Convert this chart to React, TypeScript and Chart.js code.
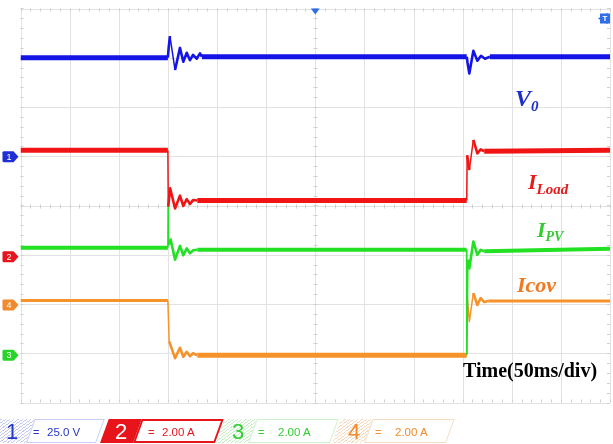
import React, { useEffect, useRef } from "react";
import { Chart, registerables } from "chart.js";
Chart.register(...registerables);

// ---- axes (time in ms, 50 ms/div; vertical in screen divisions) ----
const gridTimesMs = [0, 50, 100, 150, 200, 250, 300, 350, 400, 450, 500, 550, 600];
const gridDivs = [0, 1, 2, 3, 4, 5, 6, 7, 8];

// ---- traces ----
const v0TimeMs = [0, 150, 150.8, 152.1, 157.3, 162.3, 165.7, 169.2, 172.5, 175.6, 179.3, 182.7, 184.7, 454.2, 455, 456.8, 460.9, 465, 468.7, 472.7, 477.8, 600];
const v0Div = [7.0, 7.0, 7.2, 7.44, 6.75, 7.2, 6.92, 7.1, 6.95, 7.06, 6.98, 7.09, 7.02, 7.02, 6.9, 6.68, 7.14, 6.94, 7.04, 6.98, 7.02, 7.02];

const iLoadTimeMs = [0, 150, 150.4, 152.3, 157.3, 162.3, 165.7, 169.2, 172.5, 175.6, 180, 454.2, 454.6, 456.8, 460.9, 465, 468.4, 472, 600];
const iLoadDiv = [5.12, 5.12, 3.98, 4.35, 3.94, 4.2, 3.99, 4.13, 4.03, 4.11, 4.1, 4.1, 5.02, 4.72, 5.33, 5.06, 5.14, 5.1, 5.12];

const iPvTimeMs = [0, 150, 150.2, 150.6, 152.8, 157.3, 162.3, 165.7, 169.2, 172.5, 175.6, 180, 454.0, 454.3, 455.4, 456.8, 460.9, 465, 468.4, 472, 600];
const iPvDiv = [3.14, 3.14, 4.0, 3.2, 3.31, 2.9, 3.18, 2.99, 3.13, 3.03, 3.09, 3.1, 3.1, 0.98, 2.9, 2.72, 3.27, 3.0, 3.1, 3.07, 3.12];

const iCovTimeMs = [0, 150, 151.3, 157.3, 162.3, 165.7, 169.2, 172.5, 175.6, 180, 454.2, 454.6, 456.8, 460.9, 465, 468.4, 472, 476, 600];
const iCovDiv = [2.07, 2.07, 1.24, 0.9, 1.11, 0.93, 1.03, 0.94, 1.0, 0.96, 0.96, 2.2, 1.64, 2.22, 1.98, 2.12, 2.04, 2.06, 2.06];

// channel ground markers (divisions) and labels
const channelIds = ["1", "2", "4", "3"];
const channelOffsetsDiv = [4.99, 2.96, 1.98, 0.96];
const channelColors = ["#1f2fd6", "#e8141c", "#f08a2c", "#28d428"];

const legendScales = ["25.0 V", "2.00 A", "2.00 A", "2.00 A"];
const triggerTimeMs = 300;
const transientWindowsMs = [[150, 190], [454, 482]];

const toXY = (t: number[], v: number[]) => t.map((x, i) => ({ x, y: v[i] }));

const segWidth = (steady: number) => (c: any) => {
  const dy = Math.abs(c.p0.parsed.y - c.p1.parsed.y);
  if (dy > 0.55) return 1.5;
  const x0 = c.p0.parsed.x, x1 = c.p1.parsed.x;
  const inT = transientWindowsMs.some(([a, b]) => x0 >= a && x1 <= b);
  return inT ? 2.6 : steady;
};

const scopePlugin = {
  id: "scope",
  beforeDatasetsDraw(chart: any) {
    const { ctx, chartArea: a, scales } = chart;
    const xs = scales.x, ys = scales.y;
    ctx.save();
    ctx.lineWidth = 1;
    ctx.strokeStyle = "#e2e2e2";
    gridTimesMs.forEach((t) => {
      const px = Math.round(xs.getPixelForValue(t)) + 0.5;
      ctx.beginPath(); ctx.moveTo(px, a.top); ctx.lineTo(px, a.bottom); ctx.stroke();
    });
    gridDivs.forEach((d) => {
      const py = Math.round(ys.getPixelForValue(d)) + 0.5;
      ctx.beginPath(); ctx.moveTo(a.left, py); ctx.lineTo(a.right, py); ctx.stroke();
    });
    // minor ticks
    ctx.strokeStyle = "#cfcfcf";
    const cx = Math.round(xs.getPixelForValue(triggerTimeMs)) + 0.5;
    const cy = Math.round(ys.getPixelForValue(4)) + 0.5;
    for (let t = 0; t <= 600; t += 10) {
      const px = Math.round(xs.getPixelForValue(t)) + 0.5;
      ctx.beginPath();
      ctx.moveTo(px, a.top); ctx.lineTo(px, a.top + 3);
      ctx.moveTo(px, a.bottom); ctx.lineTo(px, a.bottom - 3);
      ctx.moveTo(px, cy - 2); ctx.lineTo(px, cy + 2);
      ctx.stroke();
    }
    for (let d = 0; d <= 8.001; d += 0.2) {
      const py = Math.round(ys.getPixelForValue(d)) + 0.5;
      ctx.beginPath();
      ctx.moveTo(a.left, py); ctx.lineTo(a.left + 3, py);
      ctx.moveTo(a.right, py); ctx.lineTo(a.right - 3, py);
      ctx.moveTo(cx - 2, py); ctx.lineTo(cx + 2, py);
      ctx.stroke();
    }
    ctx.restore();
  },
  afterDraw(chart: any) {
    const { ctx, chartArea: a, scales } = chart;
    const ys = scales.y, xs = scales.x;
    ctx.save();
    // channel markers on the left
    channelOffsetsDiv.forEach((d, i) => {
      const py = ys.getPixelForValue(d);
      const l = a.left - 18, r = a.left - 2;
      ctx.fillStyle = channelColors[i];
      ctx.beginPath();
      ctx.moveTo(l + 1, py - 5.5); ctx.lineTo(r - 5, py - 5.5); ctx.lineTo(r, py);
      ctx.lineTo(r - 5, py + 5.5); ctx.lineTo(l + 1, py + 5.5); ctx.lineTo(l, py + 4.5);
      ctx.lineTo(l, py - 4.5); ctx.closePath(); ctx.fill();
      ctx.fillStyle = "#ffffff";
      ctx.font = "9px 'Liberation Sans'";
      ctx.textAlign = "center"; ctx.textBaseline = "middle";
      ctx.fillText(channelIds[i], l + 6.5, py + 0.5);
    });
    // trigger position marker
    const tx = xs.getPixelForValue(triggerTimeMs);
    ctx.fillStyle = "#2f6ee6";
    ctx.beginPath();
    ctx.moveTo(tx - 4.5, a.top); ctx.lineTo(tx + 4.5, a.top); ctx.lineTo(tx, a.top + 6);
    ctx.closePath(); ctx.fill();
    // trigger level tag at right
    const ty = a.top + 10;
    const tr = a.right, tl = a.right - 12;
    ctx.fillStyle = "#2f6ee6";
    ctx.beginPath();
    ctx.moveTo(tl, ty); ctx.lineTo(tr - 4, ty - 5); ctx.lineTo(tr, ty - 5);
    ctx.lineTo(tr, ty + 5); ctx.lineTo(tr - 4, ty + 5); ctx.closePath(); ctx.fill();
    ctx.fillRect(tl + 2, ty - 5, 8, 10);
    ctx.fillStyle = "#ffffff";
    ctx.font = "bold 8px 'Liberation Sans'";
    ctx.textAlign = "center"; ctx.textBaseline = "middle";
    ctx.fillText("T", tr - 5, ty + 0.5);
    ctx.restore();
  },
};

const serif = "'Liberation Serif', 'DejaVu Serif', serif";
const sans = "'Liberation Sans', Arial, sans-serif";

function TraceLabel(props: { x: number; baseline: number; size: number; color: string; main: string; sub?: string; subSize?: number; italic?: boolean }) {
  const { x, baseline, size, color, main, sub, subSize, italic = true } = props;
  return (
    <div style={{ position: "absolute", left: x, top: baseline - 0.8375 * size, fontFamily: serif, fontWeight: "bold", fontStyle: italic ? "italic" : "normal", fontSize: size, lineHeight: `${size}px`, color, whiteSpace: "nowrap" }}>
      {main}
      {sub ? <span style={{ fontSize: subSize, verticalAlign: -Math.round((subSize || 14) * 0.3) }}>{sub}</span> : null}
    </div>
  );
}

function Para(props: { left: number; width: number; bg: string; border?: string; bw?: number }) {
  return (
    <div style={{ position: "absolute", left: props.left, top: 419, width: props.width, height: 24, background: props.bg, border: props.border ? `${props.bw || 1}px solid ${props.border}` : "none", boxSizing: "border-box", transform: "skewX(-20deg)", transformOrigin: "bottom left" }} />
  );
}

function Txt(props: { x: number; baseline: number; size: number; color: string; text: string }) {
  return (
    <div style={{ position: "absolute", left: props.x, top: props.baseline - 0.8465 * props.size, fontFamily: sans, fontSize: props.size, lineHeight: `${props.size}px`, color: props.color, whiteSpace: "nowrap" }}>{props.text}</div>
  );
}

const hatch = (c: string) => `repeating-linear-gradient(135deg, ${c} 0px, ${c} 1px, #ffffff 1px, #ffffff 3px)`;

export default function App() {
  const ref = useRef<HTMLCanvasElement | null>(null);
  useEffect(() => {
    document.body.style.margin = "0";
    const chart = new Chart(ref.current as HTMLCanvasElement, {
      type: "line",
      data: {
        datasets: [
          { label: "V0", data: toXY(v0TimeMs, v0Div), borderColor: "#1414e6", borderWidth: 5, segment: { borderWidth: segWidth(5) } },
          { label: "ILoad", data: toXY(iLoadTimeMs, iLoadDiv), borderColor: "#f01414", borderWidth: 5, segment: { borderWidth: segWidth(5) } },
          { label: "IPV", data: toXY(iPvTimeMs, iPvDiv), borderColor: "#22e022", borderWidth: 4, segment: { borderWidth: segWidth(4) } },
          { label: "Icov", data: toXY(iCovTimeMs, iCovDiv), borderColor: "#f5922a", borderWidth: 3, segment: { borderWidth: (c: any) => (c.p0.parsed.x >= 180 && c.p1.parsed.x <= 454.3 ? 5 : segWidth(3)(c)) } },
        ] as any,
      },
      options: {
        animation: false,
        responsive: true,
        maintainAspectRatio: false,
        layout: { padding: { left: 20.5, right: 3, top: 8.5, bottom: 41.5 } },
        elements: { point: { radius: 0 }, line: { tension: 0, borderJoinStyle: "round", borderCapStyle: "butt" } },
        plugins: { legend: { display: false }, tooltip: { enabled: false } },
        scales: {
          x: { type: "linear", min: 0, max: 600, display: false },
          y: { type: "linear", min: 0, max: 8, display: false },
        },
      },
      plugins: [scopePlugin],
    });
    return () => chart.destroy();
  }, []);

  return (
    <div style={{ position: "relative", width: 613, height: 444, background: "#ffffff", overflow: "hidden" }}>
      <canvas ref={ref} />
      <TraceLabel x={515} baseline={106} size={24} color="#1e30c8" main="V" sub="0" subSize={15} />
      <TraceLabel x={528} baseline={189} size={22} color="#e51c1c" main="I" sub="Load" subSize={15} />
      <TraceLabel x={537} baseline={237} size={22} color="#33cc33" main="I" sub="PV" subSize={14} />
      <TraceLabel x={517} baseline={292} size={22} color="#f07820" main="Icov" />
      <TraceLabel x={463} baseline={377} size={20} color="#000000" main="Time(50ms/div)" italic={false} />

      {/* channel bar */}
      <Para left={-12} width={38} bg={hatch("#c4c9f2")} />
      <Para left={26} width={70} bg="#ffffff" border="#c8cdf4" />
      <Txt x={6} baseline={440} size={22} color="#2436c8" text="1" />
      <Txt x={33} baseline={436} size={11} color="#2436c8" text="=" />
      <Txt x={47} baseline={437} size={11.5} color="#2436c8" text={legendScales[0]} />

      <Para left={100} width={34} bg="#e8141c" />
      <Para left={133} width={82} bg="#ffffff" border="#e8141c" bw={2} />
      <Txt x={115} baseline={440} size={22} color="#ffffff" text="2" />
      <Txt x={148} baseline={436} size={11} color="#e8141c" text="=" />
      <Txt x={162} baseline={437} size={11.5} color="#e8141c" text={legendScales[1]} />

      <Para left={216} width={33} bg={hatch("#c6efc6")} />
      <Para left={248} width={82} bg="#ffffff" border="#cdf0cd" />
      <Txt x={232} baseline={440} size={22} color="#33cc33" text="3" />
      <Txt x={258} baseline={436} size={11} color="#33cc33" text="=" />
      <Txt x={278} baseline={437} size={11.5} color="#33cc33" text={legendScales[2]} />

      <Para left={332} width={33} bg={hatch("#f6d8bc")} />
      <Para left={364} width={82} bg="#ffffff" border="#f6dcc4" />
      <Txt x={348} baseline={440} size={22} color="#f08a2c" text="4" />
      <Txt x={375} baseline={436} size={11} color="#f08a2c" text="=" />
      <Txt x={395} baseline={437} size={11.5} color="#f08a2c" text={legendScales[3]} />
    </div>
  );
}
